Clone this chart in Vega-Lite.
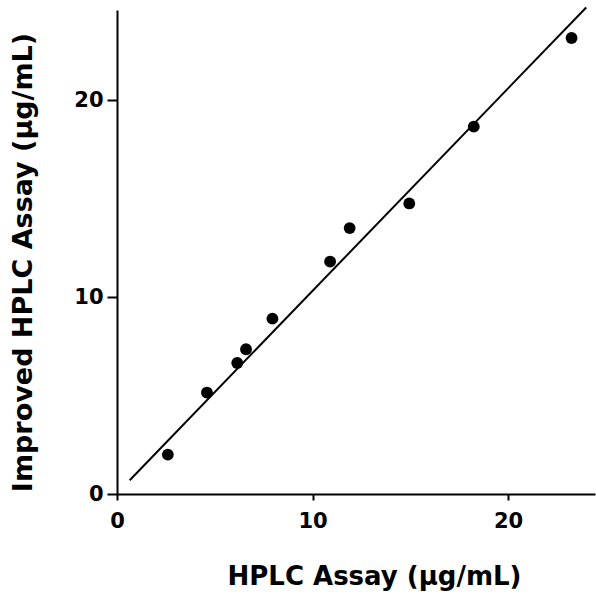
{
  "$schema": "https://vega.github.io/schema/vega-lite/v6.json",
  "autosize": "none",
  "padding": {"left": 117, "top": 10, "right": 1, "bottom": 103},
  "width": 478,
  "height": 484,
  "background": "white",
  "config": {
    "view": {"stroke": null},
    "axis": {
      "domainColor": "black", "domainWidth": 2, "tickColor": "black", "tickWidth": 2,
      "grid": false, "labelFont": "DejaVu Sans", "labelFontWeight": "bold", "labelFontSize": 21,
      "labelColor": "black", "labelFlush": false, "titleFont": "DejaVu Sans", "titleFontWeight": "bold",
      "titleColor": "black"
    }
  },
  "datasets": {
    "points": [
      {"hplc": 2.6, "improved": 2.0},
      {"hplc": 4.6, "improved": 5.15},
      {"hplc": 6.15, "improved": 6.65},
      {"hplc": 6.6, "improved": 7.35},
      {"hplc": 7.95, "improved": 8.9},
      {"hplc": 10.9, "improved": 11.8},
      {"hplc": 11.9, "improved": 13.5},
      {"hplc": 14.95, "improved": 14.75},
      {"hplc": 18.25, "improved": 18.65},
      {"hplc": 23.25, "improved": 23.15}
    ],
    "fit": [
      {"hplc": 0.65, "improved": 0.7},
      {"hplc": 24.0, "improved": 24.7}
    ]
  },
  "layer": [
    {
      "data": {"name": "fit"},
      "mark": {"type": "line", "color": "black", "strokeWidth": 2},
      "encoding": {
        "x": {"field": "hplc", "type": "quantitative", "scale": {"domain": [0, 24.45], "nice": false},
          "axis": {"values": [0, 10, 20], "tickSize": 6, "labelPadding": 10, "title": "HPLC Assay (μg/mL)", "titleFontSize": 26, "titlePadding": 32, "titleX": 257}},
        "y": {"field": "improved", "type": "quantitative", "scale": {"domain": [0, 24.57], "nice": false},
          "axis": {"values": [0, 10, 20], "tickSize": 10, "labelPadding": 4, "title": "Improved HPLC Assay (μg/mL)", "titleFontSize": 27, "titlePadding": 36, "titleY": 252}}
      }
    },
    {
      "data": {"name": "points"},
      "mark": {"type": "point", "filled": true, "color": "black", "opacity": 1, "size": 140},
      "encoding": {
        "x": {"field": "hplc", "type": "quantitative"},
        "y": {"field": "improved", "type": "quantitative"}
      }
    }
  ]
}
